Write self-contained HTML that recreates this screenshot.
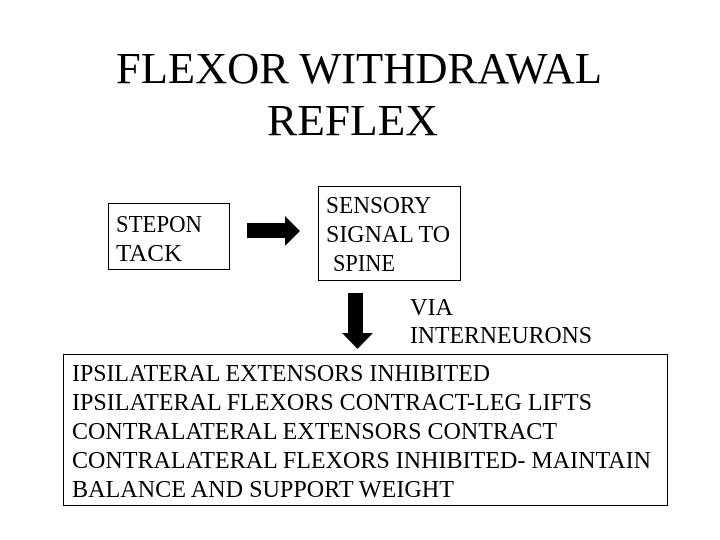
<!DOCTYPE html>
<html><head><style>body{margin:0;background:#fff}svg{display:block}</style></head><body>
<svg width="720" height="540" xmlns="http://www.w3.org/2000/svg" font-family="Liberation Serif, serif" fill="#000">
<text x="116" y="83" font-size="44" textLength="486" lengthAdjust="spacingAndGlyphs">FLEXOR WITHDRAWAL</text>
<text x="267" y="135" font-size="44" textLength="171" lengthAdjust="spacingAndGlyphs">REFLEX</text>
<rect x="108.5" y="203.5" width="121" height="66" fill="none" stroke="#000" stroke-width="1"/>
<text x="116" y="232" font-size="24" textLength="86" lengthAdjust="spacingAndGlyphs">STEPON</text>
<text x="116" y="261" font-size="24" textLength="66" lengthAdjust="spacingAndGlyphs">TACK</text>
<polygon points="247,223 285,223 285,216 300,231 285,246 285,238 247,238"/>
<rect x="318.5" y="186.5" width="142" height="94" fill="none" stroke="#000" stroke-width="1"/>
<text x="326" y="213" font-size="24" textLength="105" lengthAdjust="spacingAndGlyphs">SENSORY</text>
<text x="326" y="242" font-size="24" textLength="124" lengthAdjust="spacingAndGlyphs">SIGNAL TO</text>
<text x="333" y="271" font-size="24" textLength="62" lengthAdjust="spacingAndGlyphs">SPINE</text>
<polygon points="348,293 363,293 363,333 373,333 357.5,349 342,333 348,333"/>
<text x="410" y="315" font-size="24" textLength="43" lengthAdjust="spacingAndGlyphs">VIA</text>
<text x="410" y="343" font-size="24" textLength="182" lengthAdjust="spacingAndGlyphs">INTERNEURONS</text>
<rect x="63.5" y="354.5" width="604" height="151" fill="none" stroke="#000" stroke-width="1"/>
<g font-size="24">
<text x="72" y="381" textLength="418" lengthAdjust="spacingAndGlyphs">IPSILATERAL EXTENSORS INHIBITED</text>
<text x="72" y="410" textLength="520" lengthAdjust="spacingAndGlyphs">IPSILATERAL FLEXORS CONTRACT-LEG LIFTS</text>
<text x="72" y="439" textLength="485" lengthAdjust="spacingAndGlyphs">CONTRALATERAL EXTENSORS CONTRACT</text>
<text x="72" y="468" textLength="579" lengthAdjust="spacingAndGlyphs">CONTRALATERAL FLEXORS INHIBITED- MAINTAIN</text>
<text x="72" y="497" textLength="382" lengthAdjust="spacingAndGlyphs">BALANCE AND SUPPORT WEIGHT</text>
</g>
</svg>
</body></html>
